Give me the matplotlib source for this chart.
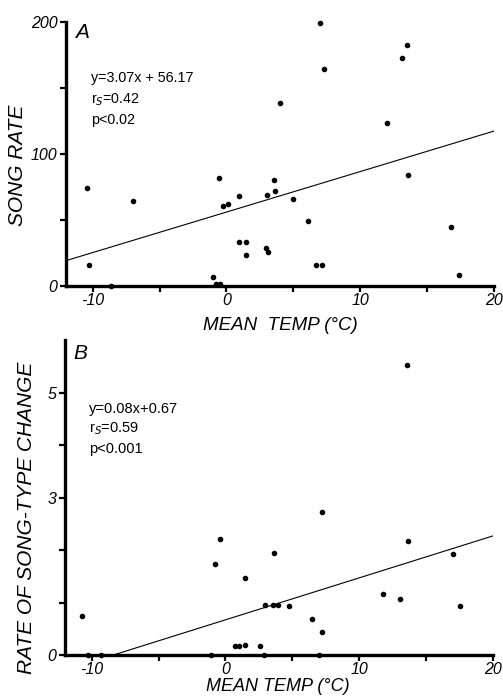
import matplotlib
matplotlib.use("Agg")
import matplotlib.pyplot as plt
import numpy as np

# ---- data ----
a_temp = [-10.4, -10.3, -8.6, -7.0, -1.0, -0.77, -0.57, -0.45, -0.22, 0.12, 0.92, 0.97,
          1.47, 1.49, 2.96, 3.01, 3.11, 3.53, 3.63, 4.03, 4.95, 6.07, 6.72, 7.01, 7.11,
          7.31, 11.99, 13.09, 13.48, 13.58, 16.79, 17.36]
a_rate = [74.8, 16.4, 0.5, 64.4, 6.8, 1.7, 82.3, 1.7, 60.8, 62.4, 33.6, 68.2,
          23.5, 33.6, 29.3, 69.2, 25.8, 80.3, 72.2, 138.6, 66.4, 49.5, 15.9, 199.7, 16.1,
          164.4, 123.7, 173.0, 182.8, 84.6, 44.9, 8.1]
a_slope, a_icept = 3.07, 56.17
a_text = ["y=3.07x + 56.17", r"r$_S$=0.42", "p<0.02"]

b_temp = [-10.7, -10.3, -9.3, -1.05, -0.75, -0.43, 0.75, 0.99, 1.45, 1.45, 2.6, 2.86,
          2.98, 3.59, 3.63, 3.94, 4.74, 6.47, 7.0, 7.2, 7.22, 11.78, 13.08, 13.6, 13.63,
          17.05, 17.54]
b_rate = [0.74, 0.0, 0.0, 0.0, 1.73, 2.21, 0.18, 0.18, 0.19, 1.47, 0.18, 0.0,
          0.95, 0.95, 1.95, 0.95, 0.94, 0.68, 0.0, 0.43, 2.73, 1.16, 1.06, 5.52, 2.17,
          1.93, 0.93]
b_slope, b_icept = 0.08, 0.67
b_text = ["y=0.08x+0.67", r"r$_S$=0.59", "p<0.001"]

x_ticks = [-10, -5, 0, 5, 10, 15, 20]
x_labels = ["-10", "", "0", "", "10", "", "20"]
a_yticks = [0, 50, 100, 150, 200]
a_ylabels = ["0", "", "100", "", "200"]
b_yticks = [0, 1, 2, 3, 4, 5]
b_ylabels = ["0", "", "", "3", "", "5"]

FONT = "Liberation Sans"

fig = plt.figure(figsize=(5.03, 6.98), dpi=100)
axA = fig.add_axes([0.131, 0.590, 0.851, 0.378])
axB = fig.add_axes([0.129, 0.0616, 0.851, 0.451])


def style(ax, yticks, ylabels, ylim):
    ax.set_xlim(-12, 20)
    ax.set_ylim(*ylim)
    for s in ["top", "right"]:
        ax.spines[s].set_visible(False)
    for s in ["left", "bottom"]:
        ax.spines[s].set_linewidth(2.4)
        ax.spines[s].set_color("black")
        ax.spines[s].set_zorder(4)
    ax.set_xticks(x_ticks)
    ax.set_xticklabels(x_labels, fontsize=11.5, fontstyle="italic", family=FONT)
    ax.set_yticks(yticks)
    ax.set_yticklabels(ylabels, fontsize=11.5, fontstyle="italic", family=FONT)
    ax.tick_params(axis="both", length=4, width=1.6, direction="out", pad=2)
    ax.tick_params(axis="x", pad=1)
    ax.patch.set_visible(False)


xx = np.array([-12, 20])

# Panel A
style(axA, a_yticks, a_ylabels, (0, 200))
axA.scatter(a_temp, a_rate, s=9, color="black", zorder=3, clip_on=False)
axA.plot(xx, a_slope * xx + a_icept, color="black", lw=0.8)
axA.text(-11.3, 192, "A", fontsize=15, fontstyle="italic", family=FONT, va="center")
for i, t in enumerate(a_text):
    axA.text(-10.1, 157.6 - 16 * i, t, fontsize=10.3, family=FONT, va="center")
axA.set_ylabel("SONG RATE", fontsize=15, fontstyle="italic", family=FONT)
axA.yaxis.set_label_coords(-0.091, 0.458)
axA.set_xlabel("MEAN  TEMP (°C)", fontsize=13.5, fontstyle="italic", family=FONT)
axA.xaxis.set_label_coords(0.5, -0.115)

# Panel B
style(axB, b_yticks, b_ylabels, (0, 6))
axB.scatter(b_temp, b_rate, s=9, color="black", zorder=3, clip_on=False)
axB.plot(xx, b_slope * xx + b_icept, color="black", lw=0.8)
axB.text(-11.4, 5.75, "B", fontsize=15, fontstyle="italic", family=FONT, va="center")
for i, t in enumerate(b_text):
    axB.text(-10.2, 4.69 - 0.38 * i, t, fontsize=10.5, family=FONT, va="center")
axB.set_ylabel("RATE OF SONG-TYPE CHANGE", fontsize=15, fontstyle="italic", family=FONT)
axB.yaxis.set_label_coords(-0.068, 0.435)
axB.set_xlabel("MEAN TEMP (°C)", fontsize=13, fontstyle="italic", family=FONT)
axB.xaxis.set_label_coords(0.498, -0.074)

fig.savefig("out.png", dpi=100)
